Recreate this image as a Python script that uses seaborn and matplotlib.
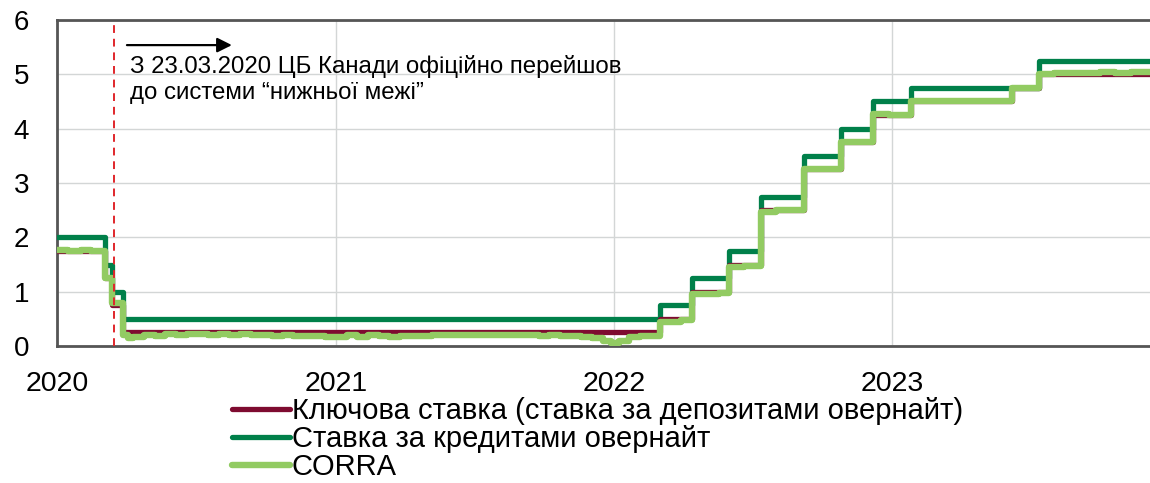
import matplotlib
matplotlib.use("Agg")
import matplotlib.pyplot as plt
import pandas as pd
import seaborn as sns

# Policy (overnight deposit) rate, %: change dates and new levels
key_dates = ["2020-01-01", "2020-03-04", "2020-03-13", "2020-03-27", "2022-03-02",
             "2022-04-13", "2022-06-01", "2022-07-13", "2022-09-07", "2022-10-26",
             "2022-12-07", "2023-01-25", "2023-06-07", "2023-07-12", "2023-12-05"]
key_rate = [1.75, 1.25, 0.75, 0.25, 0.50, 1.00, 1.50, 2.50, 3.25, 3.75,
            4.25, 4.50, 4.75, 5.00, 5.00]

# Overnight lending rate, %
lend_dates = ["2020-01-01", "2020-03-04", "2020-03-13", "2020-03-27", "2022-03-02",
              "2022-04-13", "2022-06-01", "2022-07-13", "2022-09-07", "2022-10-26",
              "2022-12-07", "2023-01-25", "2023-07-12", "2023-12-05"]
lend_rate = [2.00, 1.50, 1.00, 0.50, 0.75, 1.25, 1.75, 2.75, 3.50, 4.00,
             4.50, 4.75, 5.25, 5.25]

# CORRA, %
corra_dates = [
    "2020-01-01", "2020-01-15", "2020-02-01", "2020-02-15", "2020-03-04", "2020-03-13",
    "2020-03-27", "2020-04-03", "2020-04-10", "2020-04-24", "2020-05-08", "2020-05-22",
    "2020-06-05", "2020-06-19", "2020-07-03", "2020-07-17", "2020-07-31", "2020-08-14",
    "2020-08-28", "2020-09-11", "2020-09-25", "2020-10-09", "2020-10-23", "2020-11-06",
    "2020-11-20", "2020-12-04", "2020-12-18", "2020-12-31", "2021-01-15", "2021-01-29",
    "2021-02-12", "2021-02-26", "2021-03-12", "2021-03-26", "2021-04-09", "2021-04-23",
    "2021-05-07", "2021-05-21", "2021-06-04", "2021-06-18", "2021-07-02", "2021-07-16",
    "2021-07-30", "2021-08-13", "2021-08-27", "2021-09-10", "2021-09-24", "2021-10-08",
    "2021-10-22", "2021-11-05", "2021-11-19", "2021-12-03", "2021-12-17", "2021-12-28",
    "2022-01-07", "2022-01-21", "2022-02-04", "2022-02-18", "2022-03-02", "2022-03-16",
    "2022-03-30", "2022-04-13", "2022-05-01", "2022-05-18", "2022-06-01", "2022-06-20",
    "2022-07-13", "2022-08-01", "2022-08-15", "2022-09-07", "2022-09-25", "2022-10-26",
    "2022-11-15", "2022-12-07", "2022-12-28", "2023-01-25", "2023-03-01", "2023-04-15",
    "2023-06-07", "2023-07-12", "2023-08-01", "2023-08-20", "2023-09-10", "2023-09-30",
    "2023-10-20", "2023-11-10", "2023-11-25", "2023-12-05"]
corra_rate = [
    1.76, 1.75, 1.76, 1.75, 1.26, 0.79,
    0.20, 0.14, 0.16, 0.20, 0.19, 0.22,
    0.21, 0.23, 0.22, 0.21, 0.22, 0.21,
    0.22, 0.20, 0.21, 0.19, 0.20, 0.19,
    0.19, 0.18, 0.17, 0.16, 0.20, 0.17,
    0.20, 0.19, 0.17, 0.18, 0.18, 0.19,
    0.20, 0.20, 0.21, 0.20, 0.21, 0.21,
    0.20, 0.20, 0.20, 0.20, 0.19, 0.20,
    0.19, 0.18, 0.16, 0.14, 0.10, 0.05,
    0.10, 0.16, 0.18, 0.18, 0.45, 0.44,
    0.47, 0.95, 0.96, 0.97, 1.46, 1.48,
    2.47, 2.50, 2.50, 3.26, 3.25, 3.76,
    3.75, 4.27, 4.26, 4.50, 4.50, 4.50,
    4.75, 5.00, 5.02, 5.03, 5.02, 5.04,
    5.03, 5.05, 5.04, 5.04]

labels = ["Ключова ставка (ставка за депозитами овернайт)",
          "Ставка за кредитами овернайт",
          "CORRA"]
colors = ["#7E0B30", "#00804A", "#92CB62"]

floor_date = "2020-03-16"
year_ticks = ["2020-01-01", "2021-01-01", "2022-01-01", "2023-01-01"]
year_labels = ["2020", "2021", "2022", "2023"]
x_start, x_end = "2020-01-01", "2023-12-05"

sns.set_style("white", {"text.color": "black", "xtick.color": "black",
                        "ytick.color": "black"})
plt.rcParams["font.family"] = ["Liberation Sans", "DejaVu Sans"]

key_df = pd.DataFrame({"date": pd.to_datetime(key_dates), "rate": key_rate})
lend_df = pd.DataFrame({"date": pd.to_datetime(lend_dates), "rate": lend_rate})
corra_df = pd.DataFrame({"date": pd.to_datetime(corra_dates), "rate": corra_rate})

fig = plt.figure(figsize=(11.5, 4.83), dpi=100)
ax = fig.add_axes([57 / 1150, 137 / 483, 1093 / 1150, 326 / 483])

sns.lineplot(data=lend_df, x="date", y="rate", ax=ax, color=colors[1], lw=3.8,
             drawstyle="steps-post", estimator=None, label=labels[1], zorder=3)
sns.lineplot(data=key_df, x="date", y="rate", ax=ax, color=colors[0], lw=3.8,
             drawstyle="steps-post", estimator=None, label=labels[0], zorder=4)
sns.lineplot(data=corra_df, x="date", y="rate", ax=ax, color=colors[2], lw=4.6,
             drawstyle="steps-post", estimator=None, label=labels[2], zorder=5)

ax.axvline(pd.Timestamp(floor_date), color="#E0262B", lw=1.4, ls=(0, (4, 3)), zorder=6)

ax.set_ylim(0, 6)
ax.set_xlim(pd.Timestamp(x_start), pd.Timestamp(x_end))
ax.set_yticks(range(0, 7))
ax.set_xticks(pd.to_datetime(year_ticks))
ax.set_xticklabels(year_labels)
ax.set_xlabel("")
ax.set_ylabel("")
ax.tick_params(axis="y", length=0, pad=20, labelsize=20, labelcolor="black")
ax.tick_params(axis="x", length=4, direction="in", pad=18, labelsize=20.5,
               color="#555555", labelcolor="black")

ax.grid(True, color="#D3D6D6", lw=1.0)
ax.set_axisbelow(True)
for side in ["left", "bottom", "top"]:
    ax.spines[side].set_color("#555555")
    ax.spines[side].set_linewidth(2.0)
ax.spines["right"].set_visible(False)

# Annotation about the switch to the floor system
ax.annotate("", xy=(0.160, 0.923), xytext=(0.064, 0.923), xycoords="axes fraction",
            arrowprops=dict(arrowstyle="-|>", color="black", lw=1.6,
                            mutation_scale=22, shrinkA=0, shrinkB=0))
ax.text(0.067, 0.893, "З 23.03.2020 ЦБ Канади офіційно перейшов\nдо системи “нижньої межі”",
        transform=ax.transAxes, ha="left", va="top", fontsize=17.3, linespacing=1.25,
        color="black")

handles, lbls = ax.get_legend_handles_labels()
order = [lbls.index(l) for l in labels]
leg = ax.legend([handles[i] for i in order], [lbls[i] for i in order],
                loc="upper left", bbox_to_anchor=(232 / 1150, 1 - 397 / 483),
                bbox_transform=fig.transFigure, frameon=False, fontsize=21,
                handlelength=2.0, handletextpad=0.05, labelspacing=0.0, borderpad=0,
                borderaxespad=0)
for t in leg.get_texts():
    t.set_color("black")

fig.savefig("out.png", dpi=100)
